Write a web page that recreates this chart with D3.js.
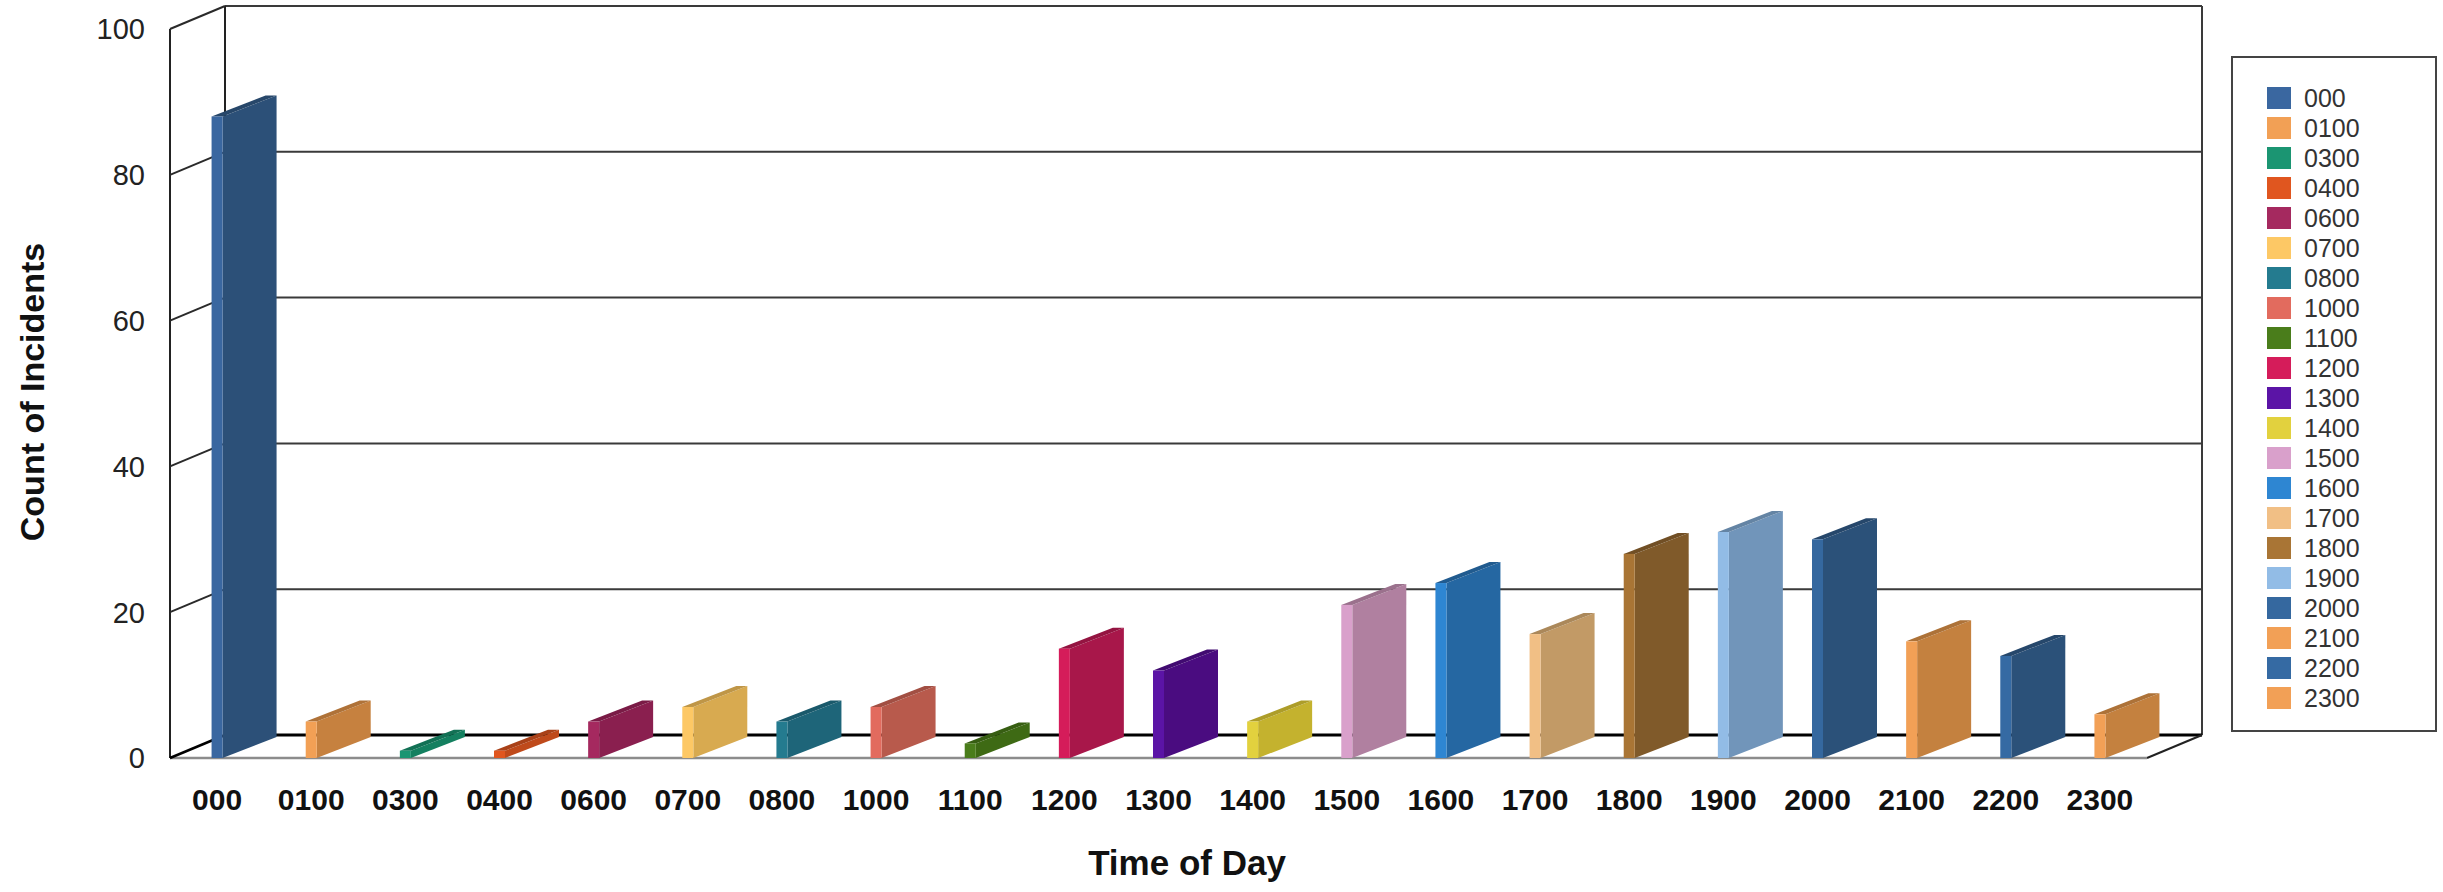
<!DOCTYPE html>
<html>
<head>
<meta charset="utf-8">
<script src="https://cdn.jsdelivr.net/npm/d3@7"></script>
<style>
  html, body { margin: 0; padding: 0; background: #fff; }
  svg { display: block; font-family: "Liberation Sans", Arial, sans-serif; }
</style>
</head>
<body>
<svg id="chart" width="2443" height="892"></svg>
<script>
// Incident counts by hour of the day
const categories = ["000","0100","0300","0400","0600","0700","0800","1000","1100","1200","1300",
                    "1400","1500","1600","1700","1800","1900","2000","2100","2200","2300"];
const counts = [88, 5, 1, 1, 5, 7, 5, 7, 2, 15, 12, 5, 21, 24, 17, 28, 31, 30, 16, 14, 6];
const yTicks = [0, 20, 40, 60, 80, 100];
// Face colour (front / legend) and shaded side colour for each hour
const faceColors = ["#3a67a0","#f2a055","#1b9572","#e0561f","#a5295f","#fdc865","#247b8f","#e26b5e",
                    "#4a7d1b","#d51c5a","#5b14a6","#e2d13e","#d9a0cb","#2e86d2","#f1bf85","#a97535",
                    "#92bce6","#35689f","#f2a056","#356aa3","#f2a056"];
const sideColors = ["#2c5078","#c6813f","#148060","#bf4a1b","#8a1f4f","#d8aa50","#1e6579","#b85a4c",
                    "#3e6a14","#a8174a","#4a0c80","#c4b22e","#b080a0","#2567a2","#c29a66","#805a2a",
                    "#7195ba","#2b5179","#c4813f","#2b5179","#c4813f"];

const svg = d3.select("#chart");

// Plot frame: front plane and the depth offset of the back wall
const frontLeft = 170, frontRight = 2147, floorY = 758, topY = 29;
const DX = 55, DY = -23;          // wall depth
const BDX = 54, BDY = -21;        // bar depth
const faceW = 11;                 // bar front face width

const x = d3.scaleBand().domain(categories).range([frontLeft, frontRight]).paddingInner(0).paddingOuter(0);
const y = d3.scaleLinear().domain([0, 100]).range([floorY, topY]);

const g = svg.append("g");

// Back wall with horizontal grid lines
const backL = frontLeft + DX, backR = frontRight + DX;
g.selectAll("line.grid").data(yTicks.filter(t => t > 0)).join("line")
  .attr("class", "grid")
  .attr("x1", backL).attr("x2", backR)
  .attr("y1", d => y(d) + DY).attr("y2", d => y(d) + DY)
  .attr("stroke", "#3a3a3a").attr("stroke-width", 2);

// Back wall outline: top edge, right edge, left edge
g.append("line").attr("x1", backL).attr("x2", backR).attr("y1", y(100) + DY).attr("y2", y(100) + DY)
  .attr("stroke", "#3a3a3a").attr("stroke-width", 2);
g.append("line").attr("x1", backR).attr("x2", backR).attr("y1", y(100) + DY).attr("y2", y(0) + DY)
  .attr("stroke", "#3a3a3a").attr("stroke-width", 2);
g.append("line").attr("x1", backL).attr("x2", backL).attr("y1", y(100) + DY).attr("y2", y(0) + DY)
  .attr("stroke", "#222").attr("stroke-width", 2);

// Floor: back edge (black), right edge, front edge (grey)
g.append("line").attr("x1", backL).attr("x2", backR).attr("y1", y(0) + DY).attr("y2", y(0) + DY)
  .attr("stroke", "#000").attr("stroke-width", 3);
g.append("line").attr("x1", frontRight).attr("x2", backR).attr("y1", y(0)).attr("y2", y(0) + DY)
  .attr("stroke", "#222").attr("stroke-width", 2);
g.append("line").attr("x1", frontLeft).attr("x2", frontRight).attr("y1", y(0)).attr("y2", y(0))
  .attr("stroke", "#8c8c8c").attr("stroke-width", 2.5);

// Left side wall: front axis line and diagonal tick lines
g.append("line").attr("x1", frontLeft).attr("x2", frontLeft).attr("y1", y(0)).attr("y2", y(100))
  .attr("stroke", "#222").attr("stroke-width", 2);
g.selectAll("line.diag").data(yTicks).join("line")
  .attr("class", "diag")
  .attr("x1", frontLeft).attr("x2", backL)
  .attr("y1", d => y(d)).attr("y2", d => y(d) + DY)
  .attr("stroke", d => d === 0 ? "#000" : "#2a2a2a").attr("stroke-width", d => d === 0 ? 2.5 : 2);

// Y tick labels
g.selectAll("text.ytick").data(yTicks).join("text")
  .attr("class", "ytick")
  .attr("x", 145).attr("y", d => y(d)).attr("dy", "0.36em")
  .attr("text-anchor", "end").attr("font-size", 29).attr("fill", "#222")
  .text(d => d);

// Bars: front face, shaded side face, thin top face
const bars = g.selectAll("g.bar").data(categories.map((c, i) => ({ c, v: counts[i], i }))).join("g")
  .attr("class", "bar");

bars.append("path")
  .attr("fill", d => sideColors[d.i])
  .attr("d", d => {
    const x0 = x(d.c) + x.bandwidth() / 2 + faceW / 2, yt = y(d.v), yb = y(0);
    return `M${x0},${yb}L${x0 + BDX},${yb + BDY}L${x0 + BDX},${yt + BDY}L${x0},${yt}Z`;
  });
bars.append("path")
  .attr("fill", d => d3.color(sideColors[d.i]).darker(0.35))
  .attr("d", d => {
    const x0 = x(d.c) + x.bandwidth() / 2 - faceW / 2, yt = y(d.v);
    return `M${x0},${yt}L${x0 + faceW},${yt}L${x0 + faceW + BDX},${yt + BDY}L${x0 + BDX},${yt + BDY}Z`;
  });
bars.append("rect")
  .attr("fill", d => faceColors[d.i])
  .attr("x", d => x(d.c) + x.bandwidth() / 2 - faceW / 2)
  .attr("width", faceW)
  .attr("y", d => y(d.v))
  .attr("height", d => y(0) - y(d.v));

// X category labels
g.selectAll("text.xtick").data(categories).join("text")
  .attr("class", "xtick")
  .attr("x", d => x(d) + x.bandwidth() / 2).attr("y", 799).attr("dy", "0.36em")
  .attr("text-anchor", "middle").attr("font-size", 30).attr("font-weight", "bold").attr("fill", "#111")
  .text(d => d);

// Axis titles
svg.append("text").attr("x", 1187).attr("y", 862).attr("dy", "0.36em")
  .attr("text-anchor", "middle").attr("font-size", 35).attr("font-weight", "bold").attr("fill", "#111")
  .text("Time of Day");
svg.append("text").attr("transform", "translate(32,392) rotate(-90)").attr("dy", "0.36em")
  .attr("text-anchor", "middle").attr("font-size", 34).attr("font-weight", "bold").attr("fill", "#111")
  .text("Count of Incidents");

// Legend
const legend = svg.append("g");
legend.append("rect").attr("x", 2232).attr("y", 57).attr("width", 204).attr("height", 674)
  .attr("fill", "#fff").attr("stroke", "#444").attr("stroke-width", 2);
const rows = legend.selectAll("g.row").data(categories).join("g")
  .attr("class", "row")
  .attr("transform", (d, i) => `translate(2267,${87 + i * 30})`);
rows.append("rect").attr("width", 24).attr("height", 22).attr("fill", (d, i) => faceColors[i]);
rows.append("text").attr("x", 37).attr("y", 11).attr("dy", "0.36em")
  .attr("font-size", 25).attr("fill", "#333").text(d => d);
</script>
</body>
</html>
